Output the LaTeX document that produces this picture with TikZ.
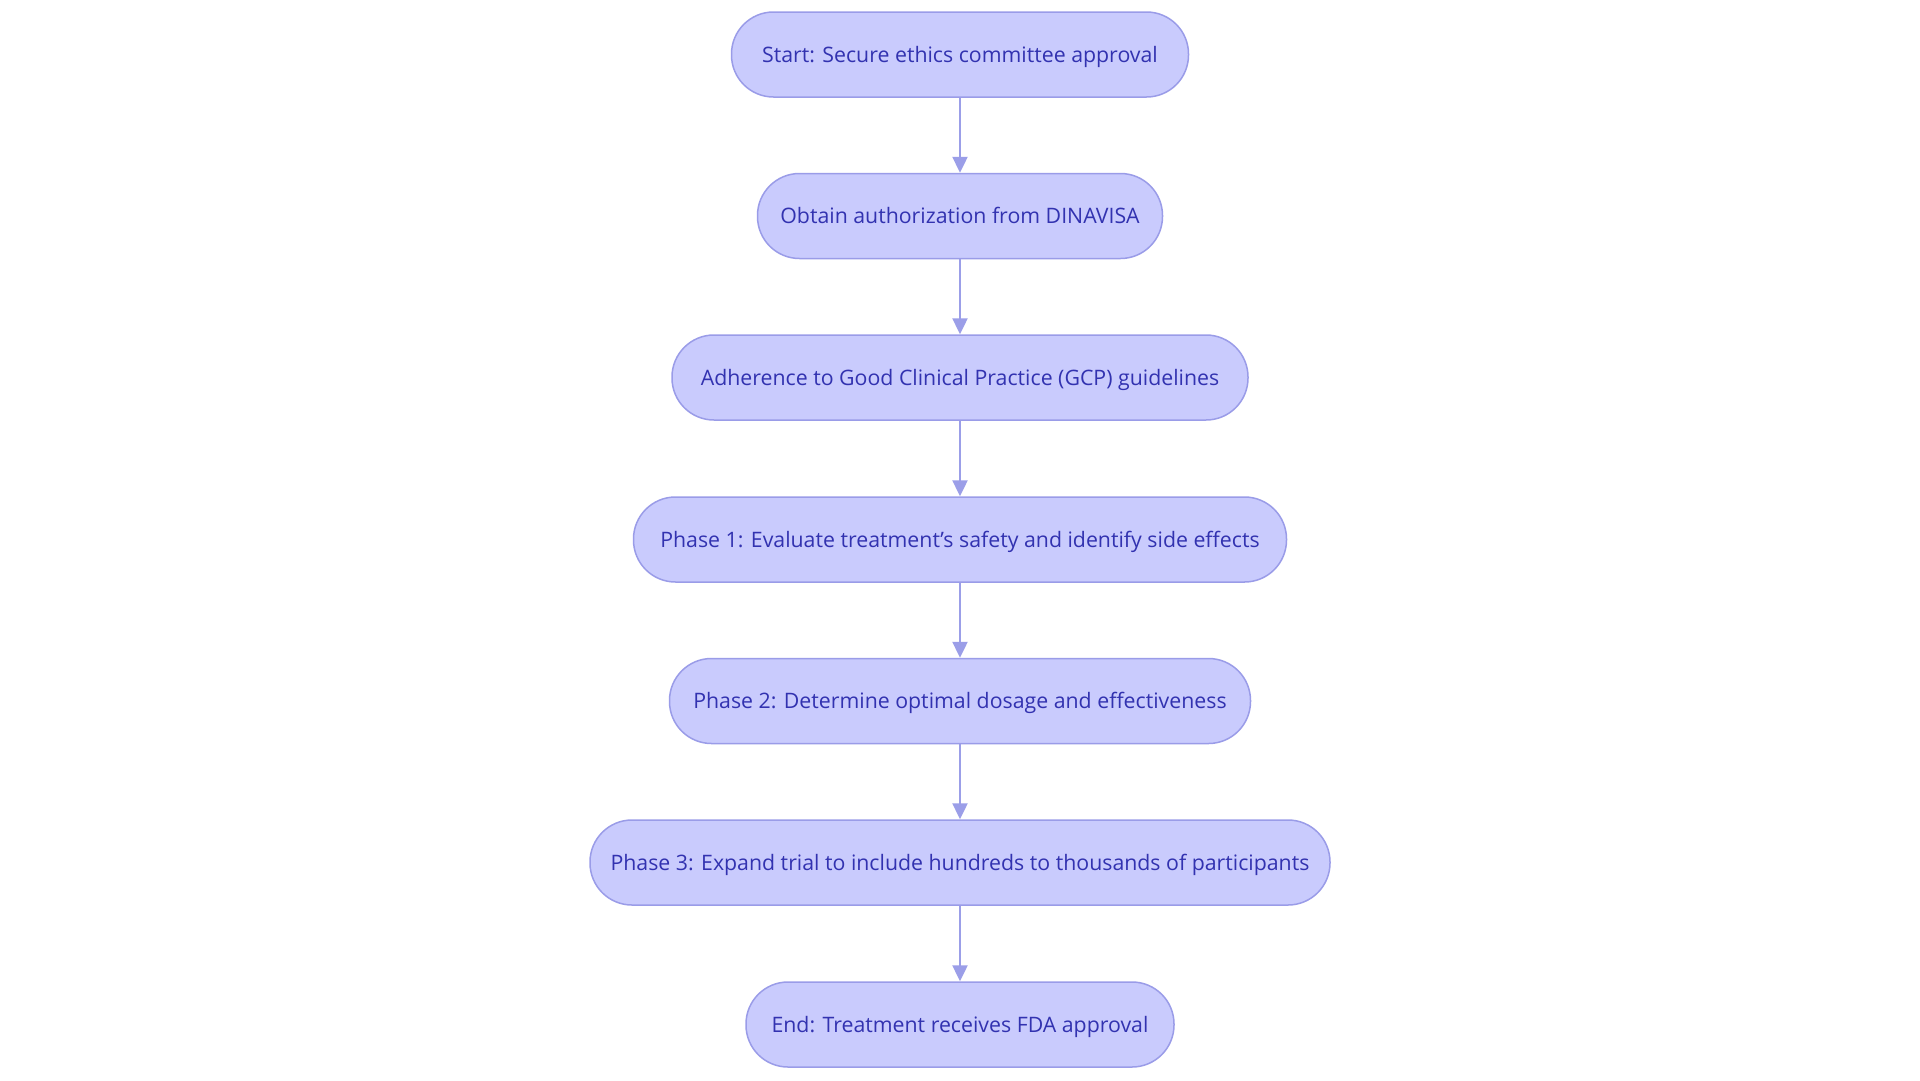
\documentclass[tikz,border=0pt]{standalone}
\usepackage{fontspec}
\setmainfont{Open Sans}
\usetikzlibrary{arrows.meta}
\definecolor{boxfill}{HTML}{C9CBFD}
\definecolor{boxline}{HTML}{9A9CE8}
\definecolor{boxtext}{HTML}{3232B0}
\definecolor{arrowc}{HTML}{9B9EE8}
\tikzset{
  stepbox/.style={draw=boxline, fill=boxfill, line width=1.5pt, rounded corners=42pt,
    minimum height=85pt, inner xsep=0pt, inner ysep=0pt, text height=15.3pt, text depth=0pt,
    text=boxtext, font=\fontsize{21.3pt}{25pt}\selectfont},
  flowarrow/.style={draw=arrowc, line width=2.4pt, -{Triangle[width=15pt,length=16pt]}}
}
\begin{document}
\begin{tikzpicture}[x=1pt,y=1pt]
\useasboundingbox[fill=white] (0,0) rectangle (1920,-1080);
\node[stepbox, minimum width=457pt] (n1) at (960,-54.5) {Start: Secure ethics committee approval};
\node[stepbox, minimum width=405pt] (n2) at (960,-216) {Obtain authorization from DINAVISA};
\node[stepbox, minimum width=576pt] (n3) at (960,-377.5) {Adherence to Good Clinical Practice (GCP) guidelines};
\node[stepbox, minimum width=653pt] (n4) at (960,-539.5) {Phase 1: Evaluate treatment's safety and identify side effects};
\node[stepbox, minimum width=581pt] (n5) at (960,-701) {Phase 2: Determine optimal dosage and effectiveness};
\node[stepbox, minimum width=740pt] (n6) at (960,-862.5) {Phase 3: Expand trial to include hundreds to thousands of participants};
\node[stepbox, minimum width=428pt] (n7) at (960,-1024.5) {End: Treatment receives FDA approval};
\foreach \a/\b in {n1/n2,n2/n3,n3/n4,n4/n5,n5/n6,n6/n7}
  \draw[flowarrow] (\a.south) -- (\b.north);
\end{tikzpicture}
\end{document}
